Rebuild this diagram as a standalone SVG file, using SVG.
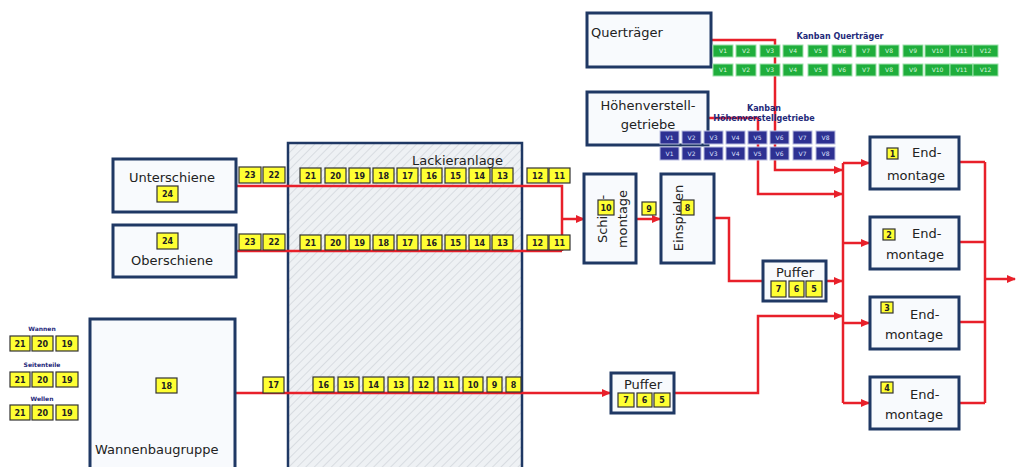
<svg xmlns="http://www.w3.org/2000/svg" width="1016" height="467" viewBox="0 0 1016 467">
<style>
.box{fill:#f8fafd;stroke:#1f3864;stroke-width:3}
.lbl{font-family:"DejaVu Sans",sans-serif;font-size:13px;fill:#222}
.mid{text-anchor:middle}
.badge{fill:#ffff33;stroke:#333;stroke-width:1.2}
.bt{font-family:"DejaVu Sans",sans-serif;font-weight:bold;font-size:8px;fill:#222;text-anchor:middle}
.gb{fill:#1fae3c;stroke:#9ee2ab;stroke-width:1}
.bb{fill:#2e3192;stroke:#b8bce0;stroke-width:1}
.vt{font-family:"DejaVu Sans",sans-serif;font-size:6px;fill:#d8f5dc;text-anchor:middle}
.vtb{font-family:"DejaVu Sans",sans-serif;font-size:6px;fill:#dde0ff;text-anchor:middle}
.kl{font-family:"DejaVu Sans",sans-serif;font-weight:bold;font-size:8px;fill:#1f2a7a;text-anchor:middle}
.sl{font-family:"DejaVu Sans",sans-serif;font-weight:bold;font-size:6px;fill:#1f2a7a;text-anchor:middle}
.ln{fill:none;stroke:#e8202a;stroke-width:2.5}
</style>
<defs>
<pattern id="hatch" width="6" height="6" patternUnits="userSpaceOnUse" patternTransform="rotate(45)">
<rect width="6" height="6" fill="#eef1f4"/>
<line x1="0" y1="0" x2="0" y2="6" stroke="#c9ced4" stroke-width="1.2"/>
</pattern>
<marker id="ar" markerWidth="9" markerHeight="8" refX="8" refY="4" orient="auto" markerUnits="userSpaceOnUse">
<path d="M0,0 L9,4 L0,8 z" fill="#e8202a"/>
</marker>
</defs>
<rect width="1016" height="467" fill="#ffffff"/>

<g id="lackieranlage">
<rect x="288" y="143" width="234" height="330" fill="url(#hatch)" stroke="#1f3864" stroke-width="2.5"/>
<text class="lbl" x="412" y="165">Lackieranlage</text>
</g>

<g id="connectors">
<path class="ln" d="M236,186 H562 V251"/>
<path class="ln" d="M236,251 H562"/>
<path class="ln" d="M562,219 H584" marker-end="url(#ar)"/>
<path class="ln" d="M636,219 H660" marker-end="url(#ar)"/>
<path class="ln" d="M714,218 H729 V281 H763"/>
<path class="ln" d="M826,281 H842" marker-end="url(#ar)"/>
<path class="ln" d="M235,393 H610" marker-end="url(#ar)"/>
<path class="ln" d="M674,393 H758 V316 H842" marker-end="url(#ar)"/>
<path class="ln" d="M711,40 H775 V170 H842" marker-end="url(#ar)"/>
<path class="ln" d="M708,118 H758 V194 H842" marker-end="url(#ar)"/>
<path class="ln" d="M843,163 V403"/>
<path class="ln" d="M843,163 H869" marker-end="url(#ar)"/>
<path class="ln" d="M843,243 H869" marker-end="url(#ar)"/>
<path class="ln" d="M843,323 H869" marker-end="url(#ar)"/>
<path class="ln" d="M843,403 H869" marker-end="url(#ar)"/>
<path class="ln" d="M959,162 H985 M959,242 H985 M959,322 H985 M959,403 H985 M985,162 V403"/>
<path class="ln" d="M985,279 H1015" marker-end="url(#ar)"/>
</g>

<g id="querträger">
<rect class="box" x="587" y="13" width="124" height="54"/>
<text class="lbl" x="591" y="37">Querträger</text>
</g>

<g id="kanban-querträger">
<text class="kl" x="840" y="39">Kanban Querträger</text>
<rect class="gb" x="713" y="45" width="20" height="12"/><text class="vt" x="723" y="53">V1</text>
<rect class="gb" x="736" y="45" width="20" height="12"/><text class="vt" x="746" y="53">V2</text>
<rect class="gb" x="760" y="45" width="20" height="12"/><text class="vt" x="770" y="53">V3</text>
<rect class="gb" x="783" y="45" width="20" height="12"/><text class="vt" x="793" y="53">V4</text>
<rect class="gb" x="808" y="45" width="20" height="12"/><text class="vt" x="818" y="53">V5</text>
<rect class="gb" x="832" y="45" width="20" height="12"/><text class="vt" x="842" y="53">V6</text>
<rect class="gb" x="856" y="45" width="20" height="12"/><text class="vt" x="866" y="53">V7</text>
<rect class="gb" x="879" y="45" width="20" height="12"/><text class="vt" x="889" y="53">V8</text>
<rect class="gb" x="903" y="45" width="20" height="12"/><text class="vt" x="913" y="53">V9</text>
<rect class="gb" x="925" y="45" width="25" height="12"/><text class="vt" x="937.5" y="53">V10</text>
<rect class="gb" x="950" y="45" width="23" height="12"/><text class="vt" x="961.5" y="53">V11</text>
<rect class="gb" x="973" y="45" width="25" height="12"/><text class="vt" x="985.5" y="53">V12</text>
<rect class="gb" x="713" y="64" width="20" height="12"/><text class="vt" x="723" y="72">V1</text>
<rect class="gb" x="736" y="64" width="20" height="12"/><text class="vt" x="746" y="72">V2</text>
<rect class="gb" x="760" y="64" width="20" height="12"/><text class="vt" x="770" y="72">V3</text>
<rect class="gb" x="783" y="64" width="20" height="12"/><text class="vt" x="793" y="72">V4</text>
<rect class="gb" x="808" y="64" width="20" height="12"/><text class="vt" x="818" y="72">V5</text>
<rect class="gb" x="832" y="64" width="20" height="12"/><text class="vt" x="842" y="72">V6</text>
<rect class="gb" x="856" y="64" width="20" height="12"/><text class="vt" x="866" y="72">V7</text>
<rect class="gb" x="879" y="64" width="20" height="12"/><text class="vt" x="889" y="72">V8</text>
<rect class="gb" x="903" y="64" width="20" height="12"/><text class="vt" x="913" y="72">V9</text>
<rect class="gb" x="925" y="64" width="25" height="12"/><text class="vt" x="937.5" y="72">V10</text>
<rect class="gb" x="950" y="64" width="23" height="12"/><text class="vt" x="961.5" y="72">V11</text>
<rect class="gb" x="973" y="64" width="25" height="12"/><text class="vt" x="985.5" y="72">V12</text>
</g>

<g id="hoehenverstellgetriebe">
<rect class="box" x="587" y="92" width="121" height="53"/>
<text class="lbl mid" x="648" y="110">Höhenverstell-</text>
<text class="lbl mid" x="648" y="129">getriebe</text>
</g>

<g id="kanban-hoehenverstellgetriebe">
<text class="kl" x="764" y="111">Kanban</text>
<text class="kl" x="764" y="121">Höhenverstellgetriebe</text>
<rect class="bb" x="660" y="131" width="19" height="13"/><text class="vtb" x="669.5" y="140">V1</text>
<rect class="bb" x="682" y="131" width="19" height="13"/><text class="vtb" x="691.5" y="140">V2</text>
<rect class="bb" x="704" y="131" width="19" height="13"/><text class="vtb" x="713.5" y="140">V3</text>
<rect class="bb" x="726" y="131" width="19" height="13"/><text class="vtb" x="735.5" y="140">V4</text>
<rect class="bb" x="748" y="131" width="19" height="13"/><text class="vtb" x="757.5" y="140">V5</text>
<rect class="bb" x="770" y="131" width="19" height="13"/><text class="vtb" x="779.5" y="140">V6</text>
<rect class="bb" x="793" y="131" width="19" height="13"/><text class="vtb" x="802.5" y="140">V7</text>
<rect class="bb" x="816" y="131" width="19" height="13"/><text class="vtb" x="825.5" y="140">V8</text>
<rect class="bb" x="660" y="147" width="19" height="13"/><text class="vtb" x="669.5" y="156">V1</text>
<rect class="bb" x="682" y="147" width="19" height="13"/><text class="vtb" x="691.5" y="156">V2</text>
<rect class="bb" x="704" y="147" width="19" height="13"/><text class="vtb" x="713.5" y="156">V3</text>
<rect class="bb" x="726" y="147" width="19" height="13"/><text class="vtb" x="735.5" y="156">V4</text>
<rect class="bb" x="748" y="147" width="19" height="13"/><text class="vtb" x="757.5" y="156">V5</text>
<rect class="bb" x="770" y="147" width="19" height="13"/><text class="vtb" x="779.5" y="156">V6</text>
<rect class="bb" x="793" y="147" width="19" height="13"/><text class="vtb" x="802.5" y="156">V7</text>
<rect class="bb" x="816" y="147" width="19" height="13"/><text class="vtb" x="825.5" y="156">V8</text>
</g>

<g id="unterschiene">
<rect class="box" x="113" y="159" width="123" height="53"/>
<text class="lbl mid" x="172" y="182">Unterschiene</text>
<rect class="badge" x="157" y="186" width="21" height="16"/><text class="bt" x="167.5" y="197">24</text>
</g>

<g id="oberschiene">
<rect class="box" x="113" y="225" width="123" height="52"/>
<rect class="badge" x="157" y="233" width="21" height="16"/><text class="bt" x="167.5" y="244">24</text>
<text class="lbl mid" x="172" y="265">Oberschiene</text>
</g>

<g id="puffer-schienen">
<rect class="badge" x="239" y="167" width="22" height="16"/><text class="bt" x="250" y="178">23</text>
<rect class="badge" x="263" y="167" width="22" height="16"/><text class="bt" x="274" y="178">22</text>
<rect class="badge" x="239" y="234" width="22" height="16"/><text class="bt" x="250" y="245">23</text>
<rect class="badge" x="263" y="234" width="22" height="16"/><text class="bt" x="274" y="245">22</text>
</g>

<g id="lack-top">
<rect class="badge" x="300" y="168" width="21" height="15"/><text class="bt" x="310.5" y="178.5">21</text>
<rect class="badge" x="325" y="168" width="21" height="15"/><text class="bt" x="335.5" y="178.5">20</text>
<rect class="badge" x="349" y="168" width="21" height="15"/><text class="bt" x="359.5" y="178.5">19</text>
<rect class="badge" x="373" y="168" width="21" height="15"/><text class="bt" x="383.5" y="178.5">18</text>
<rect class="badge" x="397" y="168" width="21" height="15"/><text class="bt" x="407.5" y="178.5">17</text>
<rect class="badge" x="421" y="168" width="21" height="15"/><text class="bt" x="431.5" y="178.5">16</text>
<rect class="badge" x="445" y="168" width="21" height="15"/><text class="bt" x="455.5" y="178.5">15</text>
<rect class="badge" x="469" y="168" width="21" height="15"/><text class="bt" x="479.5" y="178.5">14</text>
<rect class="badge" x="492" y="168" width="21" height="15"/><text class="bt" x="502.5" y="178.5">13</text>
<rect class="badge" x="527" y="168" width="21" height="15"/><text class="bt" x="537.5" y="178.5">12</text>
<rect class="badge" x="549" y="168" width="21" height="15"/><text class="bt" x="559.5" y="178.5">11</text>
</g>

<g id="lack-bottom">
<rect class="badge" x="300" y="235" width="21" height="15"/><text class="bt" x="310.5" y="245.5">21</text>
<rect class="badge" x="325" y="235" width="21" height="15"/><text class="bt" x="335.5" y="245.5">20</text>
<rect class="badge" x="349" y="235" width="21" height="15"/><text class="bt" x="359.5" y="245.5">19</text>
<rect class="badge" x="373" y="235" width="21" height="15"/><text class="bt" x="383.5" y="245.5">18</text>
<rect class="badge" x="397" y="235" width="21" height="15"/><text class="bt" x="407.5" y="245.5">17</text>
<rect class="badge" x="421" y="235" width="21" height="15"/><text class="bt" x="431.5" y="245.5">16</text>
<rect class="badge" x="445" y="235" width="21" height="15"/><text class="bt" x="455.5" y="245.5">15</text>
<rect class="badge" x="469" y="235" width="21" height="15"/><text class="bt" x="479.5" y="245.5">14</text>
<rect class="badge" x="492" y="235" width="21" height="15"/><text class="bt" x="502.5" y="245.5">13</text>
<rect class="badge" x="527" y="235" width="21" height="15"/><text class="bt" x="537.5" y="245.5">12</text>
<rect class="badge" x="549" y="235" width="21" height="15"/><text class="bt" x="559.5" y="245.5">11</text>
</g>

<g id="schienenmontage">
<rect class="box" x="584" y="174" width="52" height="89"/>
<text class="lbl mid" transform="translate(607,219) rotate(-90)">Schien-</text>
<text class="lbl mid" transform="translate(627,219) rotate(-90)">montage</text>
<rect class="badge" x="598" y="200" width="16" height="15"/><text class="bt" x="606" y="210.5">10</text>
</g>

<g id="badge-9">
<rect class="badge" x="642" y="202" width="14" height="13"/><text class="bt" x="649" y="211.5">9</text>
</g>

<g id="einspielen">
<rect class="box" x="661" y="174" width="53" height="89"/>
<text class="lbl mid" transform="translate(683,218) rotate(-90)">Einspielen</text>
<rect class="badge" x="681" y="200" width="13" height="15"/><text class="bt" x="687.5" y="210.5">8</text>
</g>

<g id="puffer-oben">
<rect class="box" x="763" y="261" width="63" height="40"/>
<text class="lbl mid" x="795" y="277">Puffer</text>
<rect class="badge" x="771" y="281" width="15" height="16"/><text class="bt" x="778.5" y="292">7</text>
<rect class="badge" x="789" y="281" width="15" height="16"/><text class="bt" x="796.5" y="292">6</text>
<rect class="badge" x="806" y="281" width="16" height="16"/><text class="bt" x="814" y="292">5</text>
</g>

<g id="wannen-teile">
<text class="sl" x="42" y="331">Wannen</text>
<rect class="badge" x="10" y="336" width="20" height="15"/><text class="bt" x="20" y="346.5">21</text>
<rect class="badge" x="32" y="336" width="21" height="15"/><text class="bt" x="42.5" y="346.5">20</text>
<rect class="badge" x="56" y="336" width="22" height="15"/><text class="bt" x="67" y="346.5">19</text>
<text class="sl" x="42" y="367">Seitenteile</text>
<rect class="badge" x="10" y="372" width="20" height="15"/><text class="bt" x="20" y="382.5">21</text>
<rect class="badge" x="32" y="372" width="21" height="15"/><text class="bt" x="42.5" y="382.5">20</text>
<rect class="badge" x="56" y="372" width="22" height="15"/><text class="bt" x="67" y="382.5">19</text>
<text class="sl" x="42" y="401">Wellen</text>
<rect class="badge" x="10" y="405" width="20" height="15"/><text class="bt" x="20" y="415.5">21</text>
<rect class="badge" x="32" y="405" width="21" height="15"/><text class="bt" x="42.5" y="415.5">20</text>
<rect class="badge" x="56" y="405" width="22" height="15"/><text class="bt" x="67" y="415.5">19</text>
</g>

<g id="wannenbaugruppe">
<rect class="box" x="90" y="319" width="145" height="152"/>
<rect class="badge" x="156" y="378" width="21" height="15"/><text class="bt" x="166.5" y="388.5">18</text>
<text class="lbl" x="95" y="454">Wannenbaugruppe</text>
</g>

<g id="wannen-strecke">
<rect class="badge" x="263" y="377" width="21" height="16"/><text class="bt" x="273.5" y="388">17</text>
<rect class="badge" x="313" y="377" width="21" height="15"/><text class="bt" x="323.5" y="387.5">16</text>
<rect class="badge" x="338" y="377" width="21" height="15"/><text class="bt" x="348.5" y="387.5">15</text>
<rect class="badge" x="363" y="377" width="21" height="15"/><text class="bt" x="373.5" y="387.5">14</text>
<rect class="badge" x="388" y="377" width="21" height="15"/><text class="bt" x="398.5" y="387.5">13</text>
<rect class="badge" x="413" y="377" width="21" height="15"/><text class="bt" x="423.5" y="387.5">12</text>
<rect class="badge" x="438" y="377" width="21" height="15"/><text class="bt" x="448.5" y="387.5">11</text>
<rect class="badge" x="463" y="377" width="20" height="15"/><text class="bt" x="473" y="387.5">10</text>
<rect class="badge" x="487" y="377" width="15" height="15"/><text class="bt" x="494.5" y="387.5">9</text>
<rect class="badge" x="506" y="377" width="15" height="15"/><text class="bt" x="513.5" y="387.5">8</text>
</g>

<g id="puffer-unten">
<rect class="box" x="611" y="373" width="63" height="40"/>
<text class="lbl mid" x="643" y="389">Puffer</text>
<rect class="badge" x="618" y="393" width="16" height="14"/><text class="bt" x="626" y="403">7</text>
<rect class="badge" x="637" y="393" width="15" height="14"/><text class="bt" x="644.5" y="403">6</text>
<rect class="badge" x="654" y="393" width="16" height="14"/><text class="bt" x="662" y="403">5</text>
</g>

<g id="endmontage-1">
<rect class="box" x="870" y="137" width="89" height="52"/>
<rect class="badge" x="887" y="148" width="11" height="11"/><text class="bt" x="892.5" y="156.5">1</text>
<text class="lbl" x="912" y="157">End-</text>
<text class="lbl mid" x="916" y="180">montage</text>
</g>
<g id="endmontage-2">
<rect class="box" x="870" y="217" width="89" height="52"/>
<rect class="badge" x="883" y="229" width="12" height="11"/><text class="bt" x="889" y="237.5">2</text>
<text class="lbl" x="912" y="238">End-</text>
<text class="lbl mid" x="915" y="259">montage</text>
</g>
<g id="endmontage-3">
<rect class="box" x="870" y="297" width="89" height="52"/>
<rect class="badge" x="881" y="302" width="12" height="11"/><text class="bt" x="887" y="310.5">3</text>
<text class="lbl" x="910" y="319">End-</text>
<text class="lbl mid" x="914" y="339">montage</text>
</g>
<g id="endmontage-4">
<rect class="box" x="870" y="377" width="89" height="52"/>
<rect class="badge" x="881" y="382" width="12" height="11"/><text class="bt" x="887" y="390.5">4</text>
<text class="lbl" x="910" y="399">End-</text>
<text class="lbl mid" x="914" y="419">montage</text>
</g>
</svg>
